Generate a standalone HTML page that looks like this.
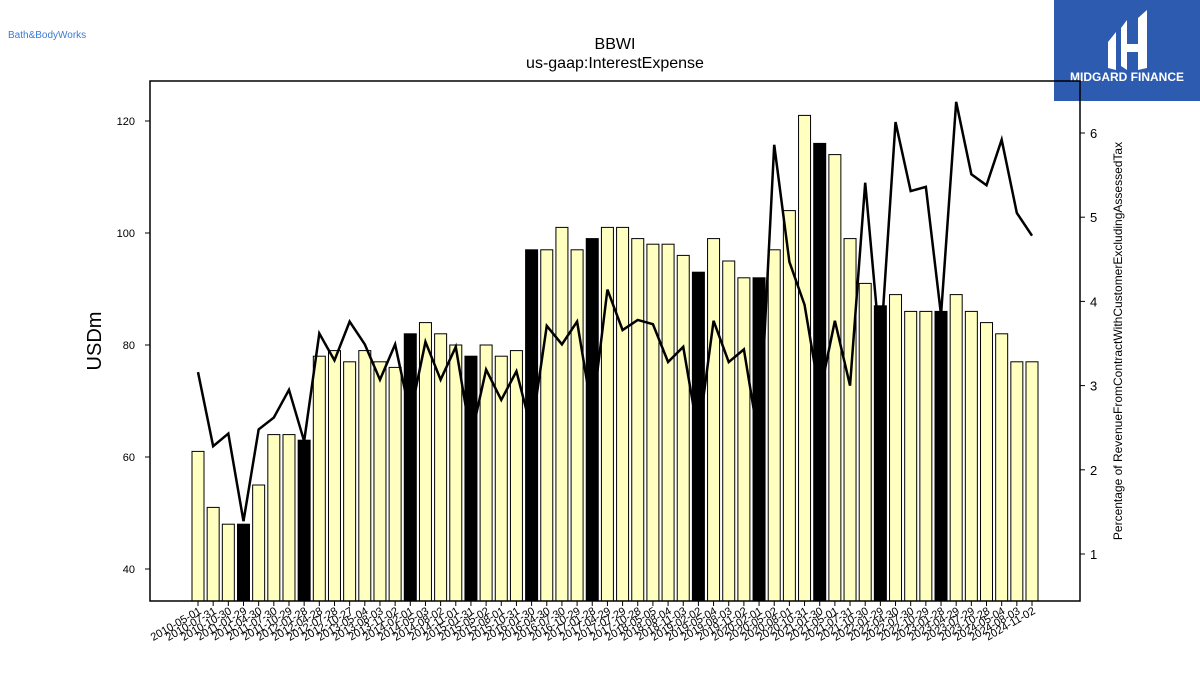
<!DOCTYPE html>
<html><head><meta charset="utf-8"><style>
body{margin:0;background:#fff;width:1200px;height:675px;overflow:hidden;font-family:"Liberation Sans","DejaVu Sans",sans-serif}
</style></head><body>
<svg id="c" width="1200" height="675" xmlns="http://www.w3.org/2000/svg">
<text x="8" y="38" font-size="10" fill="#3a7bd5">Bath&amp;BodyWorks</text>
<g>
<rect x="1054" y="0" width="146" height="101" fill="#2d5bb0"/>
<path d="M1108 42 L1116 32 L1116 70 L1108 68 Z M1121 28 L1127 20 L1127 70 L1121 66 Z M1138 18 L1147 10 L1147 68 L1138 70 Z M1127 44 L1138 44 L1138 52 L1127 52 Z" fill="#fff"/>
<text x="1127" y="81" font-size="12" font-weight="bold" fill="#fff" text-anchor="middle">MIDGARD FINANCE</text>
</g>
<text x="615" y="49" font-size="16" text-anchor="middle">BBWI</text>
<text x="615" y="68" font-size="16" text-anchor="middle">us-gaap:InterestExpense</text>
<g id="bars"></g><g id="xt"></g><g id="yl"></g><g id="yr"></g>
<path id="line" fill="none" stroke="#000" stroke-width="2.5"/>
<rect x="150" y="81" width="930" height="520" fill="none" stroke="#000" stroke-width="1.5"/>
<text transform="translate(101,341) rotate(-90)" font-size="20" text-anchor="middle">USDm</text>
<text transform="translate(1122,341) rotate(-90)" font-size="12" text-anchor="middle">Percentage of RevenueFromContractWithCustomerExcludingAssessedTax</text>
</svg>
<script>
const labels=["2010-05-01","2010-07-31","2010-10-30","2011-01-29","2011-04-30","2011-07-30","2011-10-29","2012-01-28","2012-04-28","2012-07-28","2012-10-27","2013-05-04","2013-08-03","2013-11-02","2014-02-01","2014-05-03","2014-08-02","2014-11-01","2015-01-31","2015-05-02","2015-08-01","2015-10-31","2016-01-30","2016-04-30","2016-07-30","2016-10-29","2017-01-28","2017-04-29","2017-07-29","2017-10-28","2018-05-05","2018-08-04","2018-11-03","2019-02-02","2019-05-04","2019-08-03","2019-11-02","2020-02-01","2020-05-02","2020-08-01","2020-10-31","2021-01-30","2021-05-01","2021-07-31","2021-10-30","2022-01-29","2022-04-30","2022-07-30","2022-10-29","2023-01-28","2023-04-29","2023-07-29","2023-10-28","2024-05-04","2024-08-03","2024-11-02"];
const interest=[61,51,48,48,55,64,64,63,78,79,77,79,77,76,82,84,82,80,78,80,78,79,97,97,101,97,99,101,101,99,98,98,96,93,99,95,92,92,97,104,121,116,114,99,91,87,89,86,86,86,89,86,84,82,77,77];
const pct=[3.16,2.28,2.43,1.39,2.48,2.62,2.95,2.34,3.62,3.30,3.76,3.49,3.07,3.49,2.65,3.52,3.07,3.46,2.38,3.19,2.83,3.17,2.47,3.71,3.49,3.76,2.67,4.14,3.66,3.78,3.73,3.28,3.46,2.41,3.77,3.28,3.43,2.33,5.86,4.47,3.96,2.89,3.77,3.00,5.41,3.42,6.13,5.31,5.36,3.84,6.37,5.51,5.38,5.92,5.05,4.78];
const annual=[3,7,14,18,22,26,33,37,41,45,49];
const leftTicks=[40,60,80,100,120];
const rightTicks=[1,2,3,4,5,6];
const NS="http://www.w3.org/2000/svg";
const X=i=>198+i*(1032-198)/(labels.length-1);
const Y=v=>569-(v-40)*5.6;
const Y2=v=>554-(v-1)*84.2;
function mk(t,a,p){const e=document.createElementNS(NS,t);for(const k in a)e.setAttribute(k,a[k]);p.appendChild(e);return e;}
const bars=document.getElementById('bars'),xt=document.getElementById('xt');
interest.forEach((v,i)=>{
 const b=mk('rect',{x:X(i)-6,y:Y(v),width:12,height:601-Y(v),fill:annual.includes(i)?'#000':'#ffffc0',stroke:'#000','stroke-width':1},bars);
 
 
 const tk=mk('line',{x1:X(i),x2:X(i),y1:601,y2:606,stroke:'#000'},xt);
 
 
 const t=mk('text',{transform:`translate(${X(i)+4},${613}) rotate(-30)`,'font-size':11,'text-anchor':'end'},xt);
 t.textContent=labels[i];
 
 
});
const yl=document.getElementById('yl');
leftTicks.forEach(v=>{
 const l=mk('line',{x1:145,x2:150,y1:Y(v),y2:Y(v),stroke:'#000'},yl);
 
 
 const t=mk('text',{x:135,y:Y(v)+4,'font-size':11,'text-anchor':'end'},yl);
 t.textContent=v;
 
 
});
const yr=document.getElementById('yr');
rightTicks.forEach(v=>{
 const l=mk('line',{x1:1080,x2:1085,y1:Y2(v),y2:Y2(v),stroke:'#000'},yr);
 
 
 const t=mk('text',{x:1090,y:Y2(v)+5,'font-size':13},yr);
 t.textContent=v;
 
 
});
document.getElementById('line').setAttribute('d',pct.map((v,i)=>(i?'L':'M')+X(i)+' '+Y2(v)).join(' '));
</script>
</body></html>
